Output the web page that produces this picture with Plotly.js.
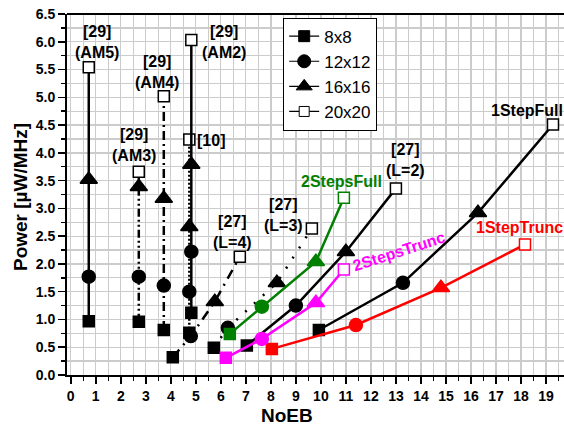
<!DOCTYPE html>
<html>
<head>
<meta charset="utf-8">
<script src="https://cdn.plot.ly/plotly-3.0.1.min.js"></script>
<style>html,body{margin:0;padding:0;background:#fff;}#chart{width:564px;height:435px;}</style>
</head>
<body>
<div id="chart"></div>
<script>
// Marker sizes (legend categories)
const sizes = ['8x8', '12x12', '16x16', '20x20'];

// [29] AM5 / AM3 / AM4 / AM2 and [10] (vertical series)
const am5X = [0.72, 0.72, 0.72, 0.72];
const am5Y = [0.97, 1.77, 3.52, 5.54];
const am3X = [2.72, 2.72, 2.72, 2.72];
const am3Y = [0.96, 1.77, 3.39, 3.66];
const am4X = [3.72, 3.72, 3.72, 3.72];
const am4Y = [0.81, 1.61, 3.18, 5.02];
const am2X = [4.82, 4.82, 4.82, 4.82];
const am2Y = [1.12, 2.22, 3.79, 6.03];
const ref10X = [4.74, 4.74, 4.74, 4.74];
const ref10Y = [0.76, 1.50, 2.67, 4.24];

// [27] L=4, L=3, L=2
const l4X = [4.08, 4.80, 5.76, 6.76];
const l4Y = [0.32, 0.70, 1.32, 2.13];
const l3X = [5.72, 6.28, 8.24, 9.64];
const l3Y = [0.49, 0.85, 1.66, 2.64];
const l2X = [7.04, 9.00, 11.00, 13.00];
const l2Y = [0.53, 1.25, 2.22, 3.36];

// Proposed designs
const oneFullX = [9.92, 13.28, 16.28, 19.28];
const oneFullY = [0.81, 1.66, 2.92, 4.51];
const oneTruncX = [8.04, 11.40, 14.80, 18.16];
const oneTruncY = [0.47, 0.90, 1.57, 2.35];
const twoFullX = [6.36, 7.64, 9.80, 10.92];
const twoFullY = [0.74, 1.23, 2.04, 3.19];
const twoTruncX = [6.20, 7.64, 9.80, 10.92];
const twoTruncY = [0.31, 0.65, 1.30, 1.90];

const symbols = ['square', 'circle', 'triangle-up', 'square'];
const mSizes = [11, 13, 15, 11];

function series(x, y, color, dash) {
  return {
    x: x, y: y, type: 'scatter', mode: 'lines+markers', showlegend: false,
    line: {color: color, width: 2.5, dash: dash || 'solid'},
    marker: {symbol: symbols, size: mSizes, opacity: 1,
      color: [color, color, color, 'white'],
      line: {color: color, width: 1.5}},
    hoverinfo: 'x+y'
  };
}

const traces = [
  series(am5X, am5Y, 'black', 'solid'),
  series(am3X, am3Y, 'black', '8px,3px,2px,3px,2px,3px'),
  series(am4X, am4Y, 'black', '9px,4px,2px,4px'),
  series(ref10X, ref10Y, 'black', '2px,2px'),
  series(am2X, am2Y, 'black', 'solid'),
  series(l4X, l4Y, 'black', '10px,6px,2px,6px'),
  series(l3X, l3Y, 'black', '2px,10px'),
  series(l2X, l2Y, 'black', 'solid'),
  series(oneFullX, oneFullY, 'black', 'solid'),
  series(oneTruncX, oneTruncY, '#ff0000', 'solid'),
  series(twoFullX, twoFullY, '#008000', 'solid'),
  series(twoTruncX, twoTruncY, '#ff00ff', 'solid')
];

// legend-only traces
sizes.forEach((s, i) => {
  traces.push({
    x: [-100], y: [-100], type: 'scatter', mode: 'lines+markers', name: s,
    line: {color: 'black', width: 1.2},
    marker: {symbol: symbols[i], size: [11, 13, 14, 10][i], opacity: 1, color: i === 3 ? 'white' : 'black',
      line: {color: 'black', width: 1}}
  });
});

const FAM = 'Liberation Sans, Arial, sans-serif';
const annFont = {family: FAM, size: 16, color: 'black', weight: 'bold'};
function ann(x, y, text, color, angle) {
  return {x: x, y: y, xref: 'x', yref: 'y', text: '<b>' + text + '</b>', showarrow: false,
    font: Object.assign({}, annFont, {color: color || 'black'}), textangle: angle || 0,
    xanchor: 'center', yanchor: 'middle'};
}

const layout = {
  width: 564, height: 435,
  margin: {l: 67, r: 0, t: 14, b: 60},
  paper_bgcolor: 'white', plot_bgcolor: 'white',
  font: {family: FAM, color: 'black'},
  xaxis: {
    range: [-0.15, 19.72], dtick: 1, tick0: 0, showgrid: true, gridcolor: '#cccccc', gridwidth: 1.3,
    zeroline: false, showline: true, linecolor: 'black', linewidth: 2,
    ticks: 'outside', ticklen: 7, tickwidth: 1.5, tickcolor: 'black',
    minor: {dtick: 0.5, tick0: 0, showgrid: true, gridcolor: '#cccccc', gridwidth: 1.3, ticks: 'outside', ticklen: 4, tickwidth: 1.5, tickcolor: 'black'},
    tickfont: {size: 14, weight: 'bold', family: FAM}
  },
  yaxis: {
    range: [0, 6.5], dtick: 0.5, tick0: 0, tickformat: '.1f', showgrid: true, gridcolor: '#cccccc', gridwidth: 1.3,
    zeroline: false, showline: true, linecolor: 'black', linewidth: 2,
    ticks: 'outside', ticklen: 7, tickwidth: 1.5, tickcolor: 'black',
    minor: {dtick: 0.25, tick0: 0, showgrid: true, gridcolor: '#cccccc', gridwidth: 1.3, ticks: 'outside', ticklen: 4, tickwidth: 1.5, tickcolor: 'black'},
    tickfont: {size: 14, weight: 'bold', family: FAM}
  },
  showlegend: true,
  legend: {x: 0.435, y: 0.99, xanchor: 'left', yanchor: 'top', bgcolor: 'white',
    bordercolor: 'black', borderwidth: 1, font: {size: 17, family: FAM},
    tracegroupgap: 0, itemwidth: 30},
  shapes: [
    {type: 'line', xref: 'paper', yref: 'paper', x0: 0, x1: 1, y0: 1, y1: 1, line: {color: 'black', width: 2}}
  ],
  annotations: [
    ann(1.04, 5.99, '[29]<br>(AM5)'),
    ann(3.44, 5.46, '[29]<br>(AM4)'),
    ann(2.52, 4.14, '[29]<br>(AM3)'),
    ann(6.12, 6.00, '[29]<br>(AM2)'),
    ann(5.62, 4.23, '[10]'),
    ann(6.48, 2.58, '[27]<br>(L=4)'),
    ann(8.52, 2.88, '[27]<br>(L=3)'),
    ann(13.40, 3.87, '[27]<br>(L=2)'),
    ann(10.84, 3.48, '2StepsFull', '#008000'),
    ann(13.12, 2.22, '2StepsTrunc', '#ff00ff', -18),
    ann(18.24, 4.77, '1StepFull'),
    ann(17.96, 2.65, '1StepTrunc', '#ff0000'),
    {xref: 'paper', yref: 'paper', x: 0.443, y: -0.111, text: '<b>NoEB</b>', showarrow: false,
      font: {family: FAM, size: 19, color: 'black'}, xanchor: 'center', yanchor: 'middle'},
    {xref: 'paper', yref: 'paper', x: -0.0946, y: 0.493, text: '<b>Power [µW/MHz]</b>', showarrow: false,
      textangle: -90, font: {family: FAM, size: 19, color: 'black'}, xanchor: 'center', yanchor: 'middle'}
  ]
};

Plotly.newPlot('chart', traces, layout, {staticPlot: true, displayModeBar: false});
</script>
</body>
</html>
